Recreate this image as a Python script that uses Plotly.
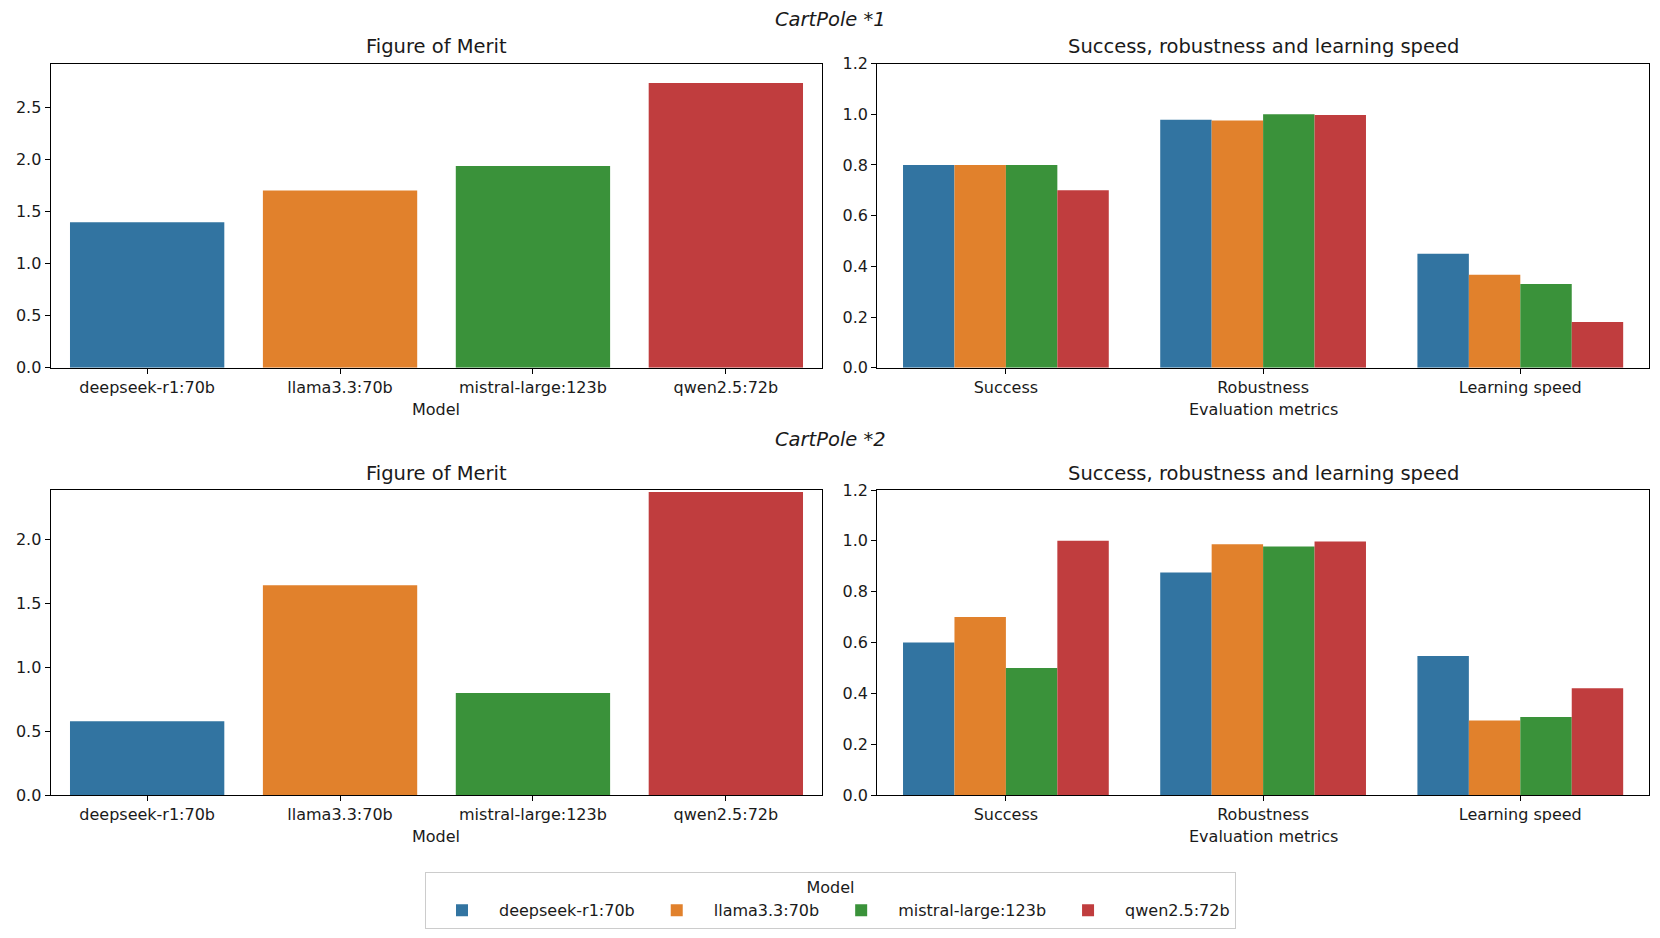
import plotly.graph_objects as go

# ---- data ----
models = ["deepseek-r1:70b", "llama3.3:70b", "mistral-large:123b", "qwen2.5:72b"]
metrics = ["Success", "Robustness", "Learning speed"]
colors = ["#3274A1", "#E1812C", "#3A923A", "#C03D3E"]

fom_1 = [1.40, 1.705, 1.94, 2.738]
success_1 = [0.80, 0.80, 0.80, 0.70]
robustness_1 = [0.978, 0.975, 1.0, 0.997]
learning_1 = [0.45, 0.367, 0.33, 0.18]

fom_2 = [0.576, 1.638, 0.797, 2.367]
success_2 = [0.60, 0.70, 0.50, 1.00]
robustness_2 = [0.875, 0.987, 0.978, 0.997]
learning_2 = [0.547, 0.293, 0.307, 0.42]

titles_main = ["CartPole *1", "CartPole *2"]
fom_ymax = [2.926, 2.383]

# page has an 8px body margin: figure sized so it fits the 1660x938 window
OFF = 8
W, H = 1660 - 2 * OFF, 938 - 2 * OFF
FONT = "DejaVu Sans"
TXT = "#1a1a1a"

def px(x):
    return (x - OFF) / W

def py(y):
    return 1 - (y - OFF) / H

fig = go.Figure()

xl = [px(50.7), px(822.3)]
xr = [px(877.3), px(1648.9)]
yt = [py(367.7), py(63.5)]
yb = [py(795.0), py(490.0)]

def add_fom(xa, ya, vals):
    fig.add_trace(go.Bar(x=models, y=vals, marker=dict(color=colors, line=dict(width=0)),
                         xaxis=xa, yaxis=ya, showlegend=False, hoverinfo="x+y"))

def add_metrics(xa, ya, s, r, l, show):
    for i, m in enumerate(models):
        fig.add_trace(go.Bar(x=metrics, y=[s[i], r[i], l[i]], name=m,
                             marker=dict(color=colors[i], line=dict(width=0)),
                             xaxis=xa, yaxis=ya, legendgroup=m, showlegend=show))

add_fom("x", "y", fom_1)
add_metrics("x2", "y2", success_1, robustness_1, learning_1, True)
add_fom("x3", "y3", fom_2)
add_metrics("x4", "y4", success_2, robustness_2, learning_2, False)

axis_common = dict(showline=True, linecolor="black", linewidth=1.2, mirror=True,
                   ticks="outside", ticklen=5, tickwidth=1.2, tickcolor="black",
                   showgrid=False, zeroline=False, automargin=False,
                   tickfont=dict(family=FONT, size=16, color=TXT))

def xax(domain, anchor, cats):
    d = dict(axis_common)
    d.update(domain=domain, anchor=anchor, type="category", categoryorder="array",
             categoryarray=cats, range=[-0.5, len(cats) - 0.5])
    return d

def yax(domain, anchor, rng, dtick):
    d = dict(axis_common)
    d.update(domain=domain, anchor=anchor, range=rng, dtick=dtick, tick0=0,
             tickformat=".1f")
    return d

fig.update_layout(
    width=W, height=H,
    margin=dict(l=0, r=0, t=0, b=0, autoexpand=False),
    paper_bgcolor="white", plot_bgcolor="white",
    barmode="group", bargap=0.2, bargroupgap=0,
    font=dict(family=FONT, size=16, color=TXT),
    xaxis=xax(xl, "y", models),
    yaxis=yax(yt, "x", [0, fom_ymax[0]], 0.5),
    xaxis2=xax(xr, "y2", metrics),
    yaxis2=yax(yt, "x2", [0, 1.2], 0.2),
    xaxis3=xax(xl, "y3", models),
    yaxis3=yax(yb, "x3", [0, fom_ymax[1]], 0.5),
    xaxis4=xax(xr, "y4", metrics),
    yaxis4=yax(yb, "x4", [0, 1.2], 0.2),
    legend=dict(orientation="h", x=px(830.5), xanchor="center", y=py(871.5), yanchor="top",
                bordercolor="#cccccc", borderwidth=1, bgcolor="white",
                title=dict(text="Model", side="top center",
                           font=dict(family=FONT, size=16, color=TXT)),
                font=dict(family=FONT, size=16, color=TXT),
                itemwidth=64, tracegroupgap=0),
)

ann = []
for t, y in zip(titles_main, [py(19), py(439)]):
    ann.append(dict(text="<i>" + t + "</i>", x=px(830), y=y, xref="paper", yref="paper",
                    xanchor="center", yanchor="middle", showarrow=False,
                    font=dict(family=FONT, size=19.5, color=TXT)))
for y in [py(46), py(473)]:
    ann.append(dict(text="Figure of Merit", x=(xl[0] + xl[1]) / 2, y=y, xref="paper", yref="paper",
                    xanchor="center", yanchor="middle", showarrow=False,
                    font=dict(family=FONT, size=19.5, color=TXT)))
    ann.append(dict(text="Success, robustness and learning speed", x=(xr[0] + xr[1]) / 2, y=y,
                    xref="paper", yref="paper", xanchor="center", yanchor="middle",
                    showarrow=False, font=dict(family=FONT, size=19.5, color=TXT)))
# axis titles
for y in [py(409), py(836)]:
    ann.append(dict(text="Model", x=(xl[0] + xl[1]) / 2, y=y, xref="paper", yref="paper",
                    xanchor="center", yanchor="middle", showarrow=False,
                    font=dict(family=FONT, size=16, color=TXT)))
    ann.append(dict(text="Evaluation metrics", x=(xr[0] + xr[1]) / 2, y=y, xref="paper",
                    yref="paper", xanchor="center", yanchor="middle", showarrow=False,
                    font=dict(family=FONT, size=16, color=TXT)))
fig.update_layout(annotations=ann)

fig.write_html("out.html")
